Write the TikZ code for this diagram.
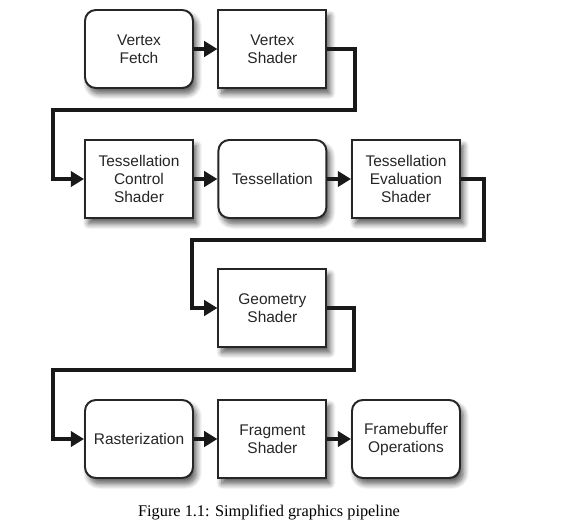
\documentclass[tikz,border=0pt]{standalone}
\usepackage{fontspec}
\setmainfont{Liberation Serif}
\newfontfamily\boxfont{Liberation Sans}
\usepackage{tikz}
\usetikzlibrary{arrows.meta}
\usetikzlibrary{shapes.geometric, positioning, calc, shadows.blur}

\begin{document}
\begin{tikzpicture}[
        stage/.style={draw=black!85, line width=1.4pt, fill=white, minimum width=2.7cm, minimum height=1.95cm, align=center, inner sep=0pt,
            font=\boxfont\fontsize{11}{12.8}\selectfont, text=black!85,
            blur shadow={shadow xshift=2.5pt, shadow yshift=-4pt, shadow blur radius=4pt, shadow blur steps=8, shadow opacity=65}},
        rstage/.style={stage, rounded corners=0.27cm},
        pipe/.style={line width=3.5pt, black!90, -{Triangle[length=0.33cm, width=0.38cm]}}]
        \useasboundingbox (0, 0) rectangle (14.2, -13.075);

        \node[rstage] (vf) at (3.475, -1.225) {Vertex\\Fetch};
        \node[stage] (vs) at (6.81, -1.225) {Vertex\\Shader};

        \node[stage] (tcs) at (3.475, -4.475) {Tessellation\\Control\\Shader};
        \node[rstage] (ts) at (6.81, -4.475) {Tessellation};
        \node[stage] (tes) at (10.15, -4.475) {Tessellation\\Evaluation\\Shader};

        \node[stage] (gs) at (6.81, -7.7) {Geometry\\Shader};

        \node[rstage] (ra) at (3.475, -10.975) {Rasterization};
        \node[stage] (fs) at (6.81, -10.975) {Fragment\\Shader};
        \node[rstage] (fb) at (10.15, -10.975) {Framebuffer\\Operations};

        \coordinate (t1) at (8.875, -2.75);
        \coordinate (t2) at (1.325, -2.75);
        \coordinate (t3) at (12.1, -6.0);
        \coordinate (t4) at (4.8, -6.0);
        \coordinate (t5) at (8.85, -9.25);
        \coordinate (t6) at (1.325, -9.25);

        \draw[pipe] (vf) -- (vs);
        \draw[pipe] (vs.east) -| (t1) -- (t2) |- (tcs.west);
        \draw[pipe] (tcs) -- (ts);
        \draw[pipe] (ts) -- (tes);
        \draw[pipe] (tes.east) -| (t3) -- (t4) |- (gs.west);
        \draw[pipe] (gs.east) -| (t5) -- (t6) |- (ra.west);
        \draw[pipe] (ra) -- (fs);
        \draw[pipe] (fs) -- (fb);

        \node[font=\fontsize{11.6}{14}\selectfont] (cap) at (6.725, -12.825) {Figure 1.1: Simplified graphics pipeline};
      \end{tikzpicture}
\end{document}
